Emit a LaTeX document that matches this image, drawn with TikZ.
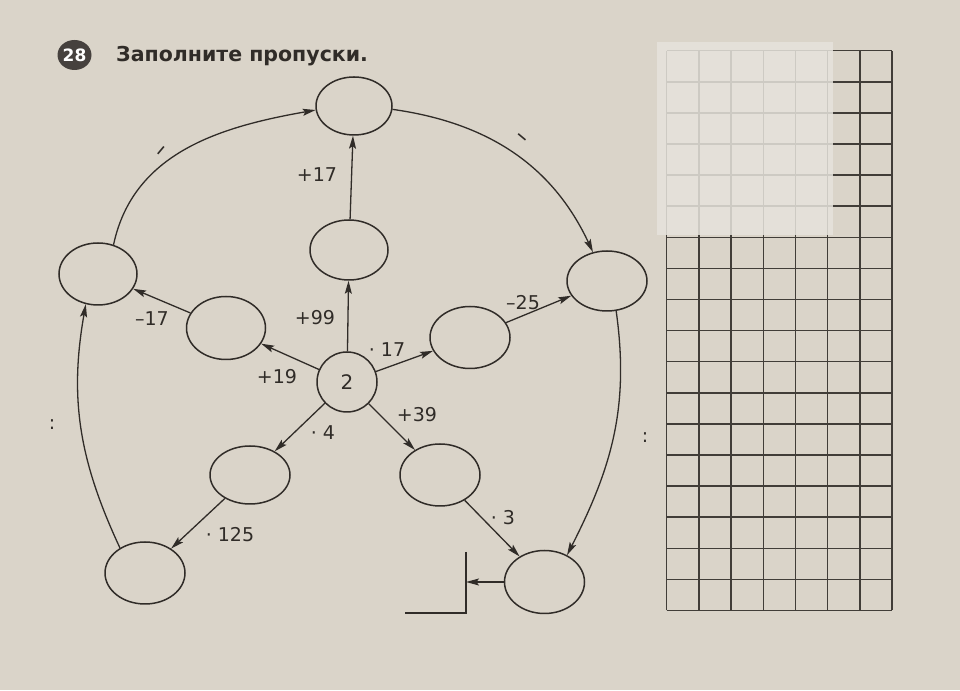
\documentclass[tikz,border=0pt]{standalone}
\usepackage{fontspec}
\setmainfont{DejaVu Sans}
\usetikzlibrary{shapes.geometric,arrows.meta}

\definecolor{paper}{RGB}{218,212,201}
\definecolor{sheet}{RGB}{230,227,220}
\definecolor{ink}{RGB}{48,44,40}
\definecolor{badge}{RGB}{70,65,62}

\begin{document}
\begin{tikzpicture}[x=1pt, y=1pt,
    oval/.style={draw=ink, line width=1.5pt, ellipse, inner sep=0pt},
    arr/.style={draw=ink, line width=1.3pt, -{Stealth[length=13pt,width=7pt,inset=2.5pt]}},
    lbl/.style={text=ink, font=\fontsize{19}{21}\selectfont, inner sep=0pt},
    gridline/.style={draw=ink!90!paper, line width=1.5pt}]

  \fill[paper] (0,0) rectangle (960,690);
  \useasboundingbox (0,0) rectangle (960,690);

  % squared paper on the right
  \foreach \i in {0,...,7}
  {
    \draw[gridline] (666.7+32.2*\i,79.5) -- ++(0,559.8);
  }
  \foreach \j in {0,...,18}
  {
    \draw[gridline] (666.7,79.5+31.1*\j) -- ++(225.4,0);
  }
  \fill[sheet, opacity=0.85] (657,455) rectangle (833,648);

  % heading
  \node[ellipse, fill=badge, minimum width=34pt, minimum height=30pt, inner sep=0pt,
        text=white, font=\fontsize{17}{19}\selectfont\bfseries] (num) at (74.5,635) {28};
  \node[anchor=west, inner sep=0pt, text=ink, font=\fontsize{20.5}{24}\selectfont\bfseries]
        (title) at (116,634) {Заполните пропуски.};

  % ovals
  \node[oval, minimum width=60pt, minimum height=60pt, font=\fontsize{20}{22}\selectfont, text=ink]
        (start) at (347,308) {2};
  \node[oval, minimum width=78pt, minimum height=60pt] (up)    at (349,440) {};
  \node[oval, minimum width=76pt, minimum height=58pt] (top)   at (354,584) {};
  \node[oval, minimum width=79pt, minimum height=63pt] (lftin) at (226,362) {};
  \node[oval, minimum width=78pt, minimum height=62pt] (lft)   at (98,416) {};
  \node[oval, minimum width=80pt, minimum height=62pt] (rgtin) at (470,352.5) {};
  \node[oval, minimum width=80pt, minimum height=60pt] (rgt)   at (607,409) {};
  \node[oval, minimum width=80pt, minimum height=58pt] (downl) at (250,215) {};
  \node[oval, minimum width=80pt, minimum height=62pt] (downr) at (440,215) {};
  \node[oval, minimum width=80pt, minimum height=62pt] (botl)  at (145,117) {};
  \node[oval, minimum width=80pt, minimum height=63pt] (botr)  at (544.5,108) {};

  % answer box, only two sides printed
  \coordinate (boxtop) at (466,138);
  \coordinate (boxcorner) at (466,77);
  \coordinate (boxend) at (405,77);
  \coordinate (boxin) at (466,108);
  \draw[ink, line width=1.3pt] (boxtop) -- (boxcorner) -- (boxend);

  % arrows out of 2
  \draw[arr] (start) -- (up);
  \draw[arr] (up) -- (top);
  \draw[arr] (start) -- (lftin);
  \draw[arr] (lftin) -- (lft);
  \draw[arr] (start) -- (rgtin);
  \draw[arr] (rgtin) -- (rgt);
  \draw[arr] (start) -- (downl);
  \draw[arr] (downl) -- (botl);
  \draw[arr] (start) -- (downr);
  \draw[arr] (downr) -- (botr);
  \draw[arr] (botr) -- (boxin);

  % outer ring
  \draw[arr] (lft.62) to[out=78, in=190] (top.186);
  \draw[arr] (top.-5) to[out=-8, in=115] (rgt.116);
  \draw[arr] (rgt.-73) to[out=-82, in=63] (botr.50);
  \draw[arr] (botl.135) to[out=115, in=-100] (lft.-112);

  % labels
  \node[lbl] (p17)  at (317,515) {+17};
  \node[lbl] (p99)  at (315,372) {+99};
  \node[lbl] (m17)  at (152,371) {–17};
  \node[lbl] (p19)  at (277,313) {+19};
  \node[lbl] (t17)  at (387,340) {· 17};
  \node[lbl] (m25)  at (523,387) {–25};
  \node[lbl] (p39)  at (417,275) {+39};
  \node[lbl] (t4)   at (323,257) {· 4};
  \node[lbl] (t125) at (230,155) {· 125};
  \node[lbl] (t3)   at (503,172) {· 3};
  \node[lbl, font=\fontsize{24}{26}\selectfont, rotate=50]  (mtl) at (164,537) {–};
  \node[lbl, font=\fontsize{24}{26}\selectfont, rotate=-40] (mtr) at (520,550) {–};
  \node[lbl] (cl) at (52,265) {:};
  \node[lbl] (cr) at (645,252) {:};

\end{tikzpicture}
\end{document}
